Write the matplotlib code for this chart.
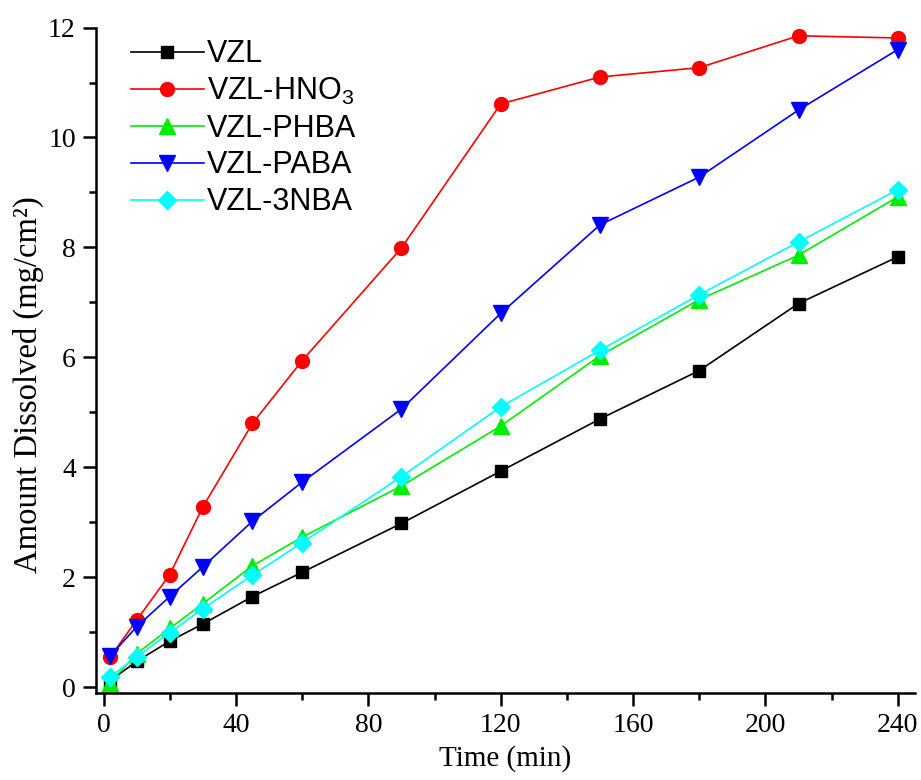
import numpy as np
import matplotlib
matplotlib.use("Agg")
import matplotlib.pyplot as plt
from matplotlib.ticker import MultipleLocator

plt.rcParams['font.family'] = ['Liberation Serif', 'DejaVu Serif']
plt.rcParams['mathtext.fontset'] = 'custom'
plt.rcParams['mathtext.rm'] = 'Liberation Sans'

# sampling times (min)
time = [2, 10, 20, 30, 45, 60, 90, 120, 150, 180, 210, 240]

# amount dissolved (mg/cm2)
vzl      = [0.12, 0.47, 0.84, 1.15, 1.65, 2.09, 2.98, 3.93, 4.88, 5.76, 6.98, 7.83]
vzl_hno3 = [0.55, 1.22, 2.05, 3.28, 4.80, 5.94, 7.99, 10.61, 11.10, 11.27, 11.85, 11.81]
vzl_phba = [0.08, 0.61, 1.07, 1.52, 2.21, 2.73, 3.66, 4.75, 6.03, 7.05, 7.86, 8.92]
vzl_paba = [0.57, 1.10, 1.65, 2.19, 3.02, 3.73, 5.06, 6.80, 8.41, 9.28, 10.50, 11.60]
vzl_3nba = [0.19, 0.55, 0.99, 1.43, 2.04, 2.63, 3.83, 5.10, 6.13, 7.14, 8.10, 9.05]

series = [
  (vzl,      "VZL",            "black",   "s", 9),
  (vzl_hno3, "VZL-HNO$_3$",    "#ff0000", "o", 10),
  (vzl_phba, "VZL-PHBA",       "#00ee00", "^", 11),
  (vzl_paba, "VZL-PABA",       "#0000ff", "v", 11),
  (vzl_3nba, "VZL-3NBA",       "#00ffff", "D", 9),
]

fig = plt.figure(figsize=(9.21, 7.8), dpi=100)
ax = fig.add_axes([0.1042, 0.1119, 0.8893, 0.8528])

for vals, lab, col, mk, ms in series:
  ax.plot(time, vals, color=col, lw=1.2, marker=mk, markersize=ms,
          markeredgecolor=col, markerfacecolor=col, label=lab, clip_on=False)

ax.set_xlim(-2.3, 245.2)
ax.set_ylim(-0.1, 12)
ax.xaxis.set_major_locator(MultipleLocator(40))
ax.xaxis.set_minor_locator(MultipleLocator(20))
ax.yaxis.set_major_locator(MultipleLocator(2))
ax.yaxis.set_minor_locator(MultipleLocator(1))

ax.spines['top'].set_visible(False)
ax.spines['right'].set_visible(False)
for s in ['left', 'bottom']:
  ax.spines[s].set_linewidth(1.8)

ax.tick_params(which='major', direction='out', length=9.5, width=1.8, pad=5, labelsize=20)
ax.tick_params(which='minor', direction='out', length=5, width=1.8)

ax.set_xlabel("Time (min)", fontsize=21, labelpad=5)
ax.set_ylabel("Amount Dissolved (mg/cm²)", fontsize=23.5)
ax.yaxis.set_label_coords(-0.063, 0.463)

leg = ax.legend(loc='upper left', bbox_to_anchor=(0.02, 1.01), frameon=False,
                prop={'family': 'Liberation Sans', 'size': 22},
                handlelength=2.4, handletextpad=0.1, labelspacing=0.22,
                borderaxespad=0.2)

fig.savefig("out.png", dpi=100)
